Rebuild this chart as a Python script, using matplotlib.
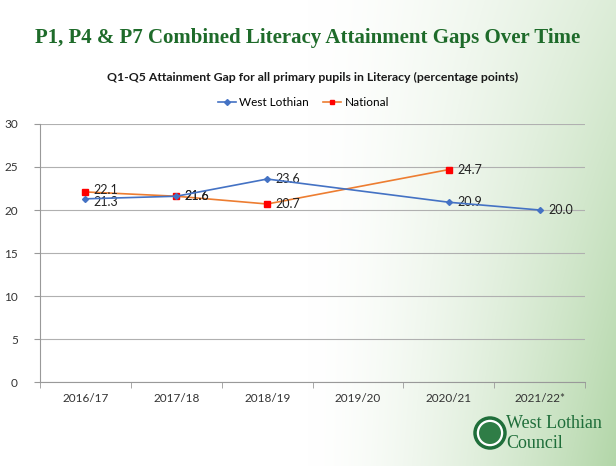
import numpy as np
import matplotlib
matplotlib.use("Agg")
import matplotlib.pyplot as plt
from matplotlib.patches import Circle

categories = ["2016/17", "2017/18", "2018/19", "2019/20", "2020/21", "2021/22*"]
west_lothian = [21.3, 21.6, 23.6, None, 20.9, 20.0]
national = [22.1, 21.6, 20.7, None, 24.7, None]
yticks = [0, 5, 10, 15, 20, 25, 30]

plt.rcParams["font.family"] = ["Lato", "DejaVu Sans"]

fig = plt.figure(figsize=(6.16, 4.66), dpi=100)

# background gradient (white -> light green on the right, stronger at bottom)
bg = fig.add_axes([0, 0, 1, 1], zorder=-10)
h, w = 466, 616
xx = np.linspace(0, 1, w)[None, :]
yy = np.linspace(0, 1, h)[:, None]  # 0 = bottom
t = np.clip((xx - 0.5) / 0.5, 0, 1) ** 1.5 * (1.0 - 0.55 * yy)
t = np.clip(t, 0, 1)
white = np.array([1.0, 1.0, 1.0])
green = np.array([0.70, 0.84, 0.66])
img = white[None, None, :] * (1 - t[..., None]) + green[None, None, :] * t[..., None]
bg.imshow(img, aspect="auto", extent=[0, 1, 0, 1], origin="lower")
bg.set_axis_off()

fig.text(0.5, 0.918, "P1, P4 & P7 Combined Literacy Attainment Gaps Over Time",
         ha="center", va="center", fontsize=15, fontweight="bold",
         family="Liberation Serif", color="#1e6b2a")
fig.text(0.507, 0.833, "Q1-Q5 Attainment Gap for all primary pupils in Literacy (percentage points)",
         ha="center", va="center", fontsize=8.8, fontweight="bold", color="#1a1a1a")

ax = fig.add_axes([0.065, 0.18, 0.885, 0.554])
ax.patch.set_alpha(0)
x = np.arange(len(categories))

def series(vals):
    xs = [i for i, v in enumerate(vals) if v is not None]
    ys = [v for v in vals if v is not None]
    return xs, ys

wx, wy = series(west_lothian)
nx, ny = series(national)
ax.plot(nx, ny, color="#ED7D31", lw=1.2, marker="s", markersize=4.5,
        markerfacecolor="#FF0000", markeredgecolor="#FF0000", label="National", zorder=3)
ax.plot(wx, wy, color="#4472C4", lw=1.2, marker="D", markersize=3,
        markerfacecolor="#4472C4", markeredgecolor="#4472C4", label="West Lothian", zorder=4)

for i, (xi, yi) in enumerate(zip(wx, wy)):
    dy = -2 if i == 0 else 0
    ax.annotate(f"{yi:.1f}", (xi, yi), xytext=(6, dy), textcoords="offset points",
                va="center", ha="left", fontsize=9, color="#222222")
for i, (xi, yi) in enumerate(zip(nx, ny)):
    dy = 1.5 if i == 0 else 0
    ax.annotate(f"{yi:.1f}", (xi, yi), xytext=(6, dy), textcoords="offset points",
                va="center", ha="left", fontsize=9, color="#222222")

ax.set_xlim(-0.5, len(categories) - 0.5)
ax.set_ylim(0, 30)
ax.set_yticks(yticks)
ax.set_yticklabels([str(v) for v in yticks], fontsize=8.5, color="#333333")
ax.set_xticks(x)
ax.set_xticklabels(categories, fontsize=8.5, color="#333333")
ax.tick_params(axis="x", length=0, pad=8)
ax.set_xticks(np.arange(-0.5, len(categories)), minor=True)
ax.tick_params(axis="x", which="minor", length=4, color="#999999")
ax.tick_params(axis="y", length=4, color="#999999", pad=12)
ax.grid(axis="y", color="#b0b0b0", lw=0.8)
ax.set_axisbelow(True)
for s in ["top", "right"]:
    ax.spines[s].set_visible(False)
for s in ["left", "bottom"]:
    ax.spines[s].set_color("#999999")

handles, labels = ax.get_legend_handles_labels()
leg = fig.legend(handles[::-1], labels[::-1], loc="center", bbox_to_anchor=(0.493, 0.779),
                 ncol=2, frameon=False, fontsize=8.5, handlelength=1.5, columnspacing=1.2,
                 handletextpad=0.3)
for line in leg.get_lines():
    line.set_markersize(3)

# logo
lax = fig.add_axes([0, 0, 1, 1], zorder=5)
lax.set_xlim(0, 616)
lax.set_ylim(466, 0)
lax.set_axis_off()
lax.add_patch(Circle((490, 433), 15, facecolor="#ffffff", edgecolor="#1f6e3a", lw=2.5))
lax.add_patch(Circle((490, 433), 11, facecolor="#2f7d46", edgecolor="none"))
lax.text(506, 424, "West Lothian", fontsize=13, family="Liberation Serif",
         color="#1f6e3a", va="center", ha="left")
lax.text(506, 443, "Council", fontsize=13, family="Liberation Serif",
         color="#1f6e3a", va="center", ha="left")

fig.savefig("out.png", dpi=100)
